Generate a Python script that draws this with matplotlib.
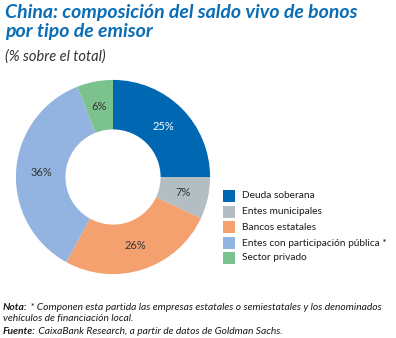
import matplotlib
matplotlib.use("Agg")
import matplotlib.pyplot as plt
from matplotlib.patches import Rectangle

# Issuer shares of outstanding bonds (% of total)
categories = ["Deuda soberana", "Entes municipales", "Bancos estatales",
              "Entes con participación pública *", "Sector privado"]
values = [25, 7, 26, 36, 6]
colors = ["#0068b3", "#b3bec2", "#f4a06f", "#93b4e0", "#7cc28e"]
label_colors = ["white", "#333333", "#333333", "#333333", "#333333"]

W, H = 396, 338
fig = plt.figure(figsize=(W / 100, H / 100), dpi=100)
fig.patch.set_facecolor("white")

FONT = "Lato"
TITLE_BLUE = "#0a6db5"

def px(x, y):
    return x / W, 1 - y / H

# Title and subtitle
fig.text(*px(5, 18), "China: composición del saldo vivo de bonos", family=FONT,
         weight="bold", style="italic", size=14, color=TITLE_BLUE, va="baseline")
fig.text(*px(5, 37), "por tipo de emisor", family=FONT,
         weight="bold", style="italic", size=14, color=TITLE_BLUE, va="baseline")
fig.text(*px(5, 57), "(% sobre el total)", family=FONT, style="italic",
         size=10.5, color="#333333", va="center")

# Donut chart
cx, cy, box = 113, 177, 200
ax = fig.add_axes([(cx - box / 2) / W, 1 - (cy + box / 2) / H, box / W, box / H])
wedges, _, autotexts = ax.pie(values, colors=colors, startangle=90, counterclock=False,
                              radius=1.0, wedgeprops=dict(width=0.51, linewidth=0),
                              autopct="%d%%", pctdistance=0.74,
                              textprops=dict(family=FONT, size=8))
for t, c in zip(autotexts, label_colors):
    t.set_color(c)
ax.set_xlim(-1.03, 1.03)
ax.set_ylim(-1.03, 1.03)
ax.set_aspect("equal")
ax.axis("off")

# Legend
row_y = [196, 212, 227, 243, 258]
for name, col, y in zip(categories, colors, row_y):
    fig.patches.append(Rectangle(px(223, y + 6), 12 / W, 12 / H, transform=fig.transFigure,
                                 facecolor=col, edgecolor="none"))
    fig.text(*px(242, y), name, family=FONT, size=7.3, color="#1a1a1a", va="center")

# Notes
notes = [
    ("Nota:", " * Componen esta partida las empresas estatales o semiestatales y los denominados", 308),
    ("", "vehículos de financiación local.", 319),
    ("Fuente:", " CaixaBank Research, a partir de datos de Goldman Sachs.", 331),
]
fig.canvas.draw()
renderer = fig.canvas.get_renderer()
for bold, rest, y in notes:
    x = 3
    if bold:
        t = fig.text(*px(x, y), bold, family=FONT, weight="bold", style="italic",
                     size=7.4, color="#1a1a1a", va="center")
        x = t.get_window_extent(renderer).x1
    fig.text(x / W, 1 - y / H, rest, family=FONT, style="italic", size=7.4,
             color="#1a1a1a", va="center")

fig.savefig("out.png", dpi=100, facecolor="white")
